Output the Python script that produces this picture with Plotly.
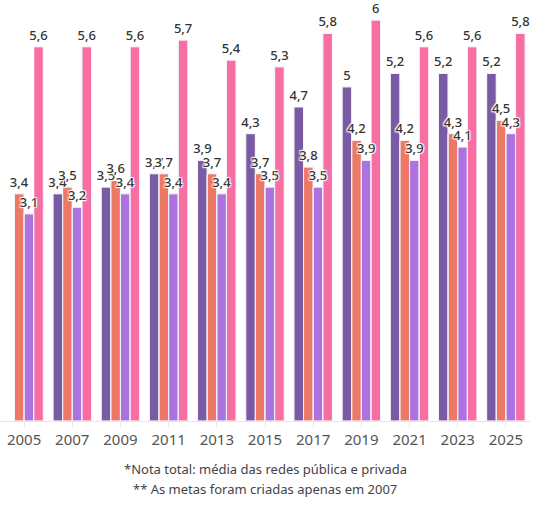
import plotly.graph_objects as go

anos = ['2005', '2007', '2009', '2011', '2013', '2015', '2017', '2019', '2021', '2023', '2025']

meta = [None, 3.4, 3.5, 3.7, 3.9, 4.3, 4.7, 5.0, 5.2, 5.2, 5.2]
total = [3.4, 3.5, 3.6, 3.7, 3.7, 3.7, 3.8, 4.2, 4.2, 4.3, 4.5]
publica = [3.1, 3.2, 3.4, 3.4, 3.4, 3.5, 3.5, 3.9, 3.9, 4.1, 4.3]
privada = [5.6, 5.6, 5.6, 5.7, 5.4, 5.3, 5.8, 6.0, 5.6, 5.6, 5.8]

series = [
    ('Meta**', meta, '#7a5ba3'),
    ('Total*', total, '#ee7866'),
    ('Pública', publica, '#ae72e0'),
    ('Privada', privada, '#f76fa2'),
]


def rotulo(v):
    if v is None:
        return ''
    return f'{v:g}'.replace('.', ',')


sombra = ('1px 1px 1px white, -1px -1px 1px white, '
          '1px -1px 1px white, -1px 1px 1px white, 0 0 2px white')

fig = go.Figure()

# barras primeiro
for i, (nome, valores, cor) in enumerate(series):
    fig.add_trace(go.Bar(
        x=anos, y=valores, name=nome, offsetgroup=str(i),
        marker=dict(color=cor, line=dict(color='white', width=1)),
    ))

# rotulos por cima de todas as barras (mesmo offsetgroup, barra transparente)
for i, (nome, valores, cor) in enumerate(series):
    fig.add_trace(go.Bar(
        x=anos, y=valores, name=nome, offsetgroup=str(i),
        marker=dict(color='rgba(0,0,0,0)'),
        text=[rotulo(v) for v in valores],
        textposition='outside',
        constraintext='none',
        textfont=dict(size=13, color='#333333', family='Noto Sans', weight=500, shadow=sombra),
        cliponaxis=False, hoverinfo='skip',
    ))

fig.update_layout(
    width=543, height=509,
    barmode='group', bargap=0.2, bargroupgap=0.0,
    showlegend=False,
    plot_bgcolor='white', paper_bgcolor='white',
    margin=dict(l=0, r=13, t=10, b=88),
    font=dict(family='Noto Sans', color='#555555'),
    xaxis=dict(
        type='category', showline=True, linecolor='#e6e6e6', linewidth=1,
        ticks='outside', tickcolor='#e6e6e6', ticklen=5,
        tickfont=dict(size=15, color='#555555'),
    ),
    yaxis=dict(range=[0, 6.15], visible=False),
    annotations=[
        dict(text='*Nota total: média das redes pública e privada',
             x=0.5, y=0, xref='paper', yref='paper', xanchor='center', yanchor='middle',
             yshift=-48, showarrow=False, font=dict(size=13, color='#444444')),
        dict(text='** As metas foram criadas apenas em 2007',
             x=0.5, y=0, xref='paper', yref='paper', xanchor='center', yanchor='middle',
             yshift=-68, showarrow=False, font=dict(size=13, color='#444444')),
    ],
)

# a pagina tem margem de 8px por padrao; tira para a figura ocupar a janela toda
fig.write_html('out.html', config={'displayModeBar': False},
               post_script="document.body.style.margin='0';")
